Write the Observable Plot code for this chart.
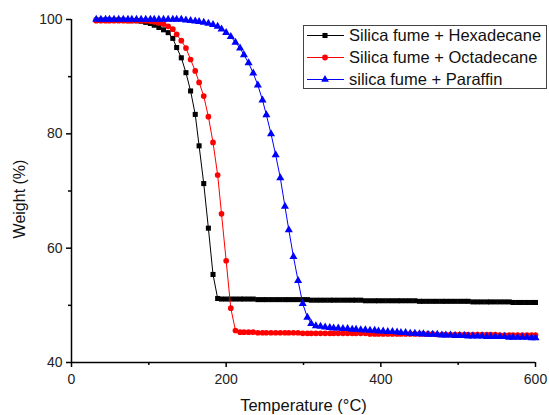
<!DOCTYPE html>
<html>
<head>
<meta charset="utf-8">
<script src="https://cdn.jsdelivr.net/npm/d3@7"></script>
<script src="https://cdn.jsdelivr.net/npm/@observablehq/plot@0.6"></script>
<style>
  html, body { margin: 0; padding: 0; background: #fff; }
  #chart { width: 549px; height: 415px; }
</style>
</head>
<body>
<div id="chart"></div>
<script>
const temperature = [32,38,44,49,55,61,67,73,78,84,
  90,96,102,107,113,119,125,131,136,142,
  148,154,160,165,171,177,183,189,194,200,
  206,212,218,223,229,235,241,247,252,258,
  264,270,276,281,287,293,299,305,310,316,
  322,328,334,339,345,351,357,363,368,374,
  380,386,392,397,403,409,415,421,426,432,
  438,444,450,455,461,467,473,479,484,490,
  496,502,508,513,519,525,531,537,542,548,
  554,560,566,571,577,583,589,595,600];

const hexadecane = [99.9,99.9,99.9,99.9,99.9,99.9,99.9,99.8,99.8,99.8,
  99.7,99.5,99.3,99.0,98.6,98.2,97.7,96.7,95.1,93.3,
  90.7,87.5,83.4,77.9,71.3,63.5,55.4,51.2,51.1,51.1,
  51.1,51.1,51.1,51.1,51.1,51.1,51.0,51.0,51.0,51.0,
  51.0,51.0,51.0,51.0,51.0,51.0,51.0,51.0,50.9,50.9,
  50.9,50.9,50.9,50.9,50.9,50.9,50.9,50.9,50.9,50.9,
  50.8,50.8,50.8,50.8,50.8,50.8,50.8,50.8,50.8,50.8,
  50.8,50.8,50.7,50.7,50.7,50.7,50.7,50.7,50.7,50.7,
  50.7,50.7,50.7,50.7,50.6,50.6,50.6,50.6,50.6,50.6,
  50.6,50.6,50.6,50.5,50.5,50.5,50.5,50.5,50.5];

const octadecane = [99.8,99.8,99.8,99.8,99.8,99.8,99.8,99.8,99.8,99.8,
  99.8,99.8,99.7,99.6,99.4,99.2,98.8,98.3,97.4,96.3,
  95.0,93.0,91.0,89.0,86.6,83.0,78.5,72.8,66.0,57.8,
  49.5,45.6,45.3,45.3,45.3,45.3,45.2,45.2,45.2,45.2,
  45.2,45.2,45.2,45.2,45.2,45.2,45.1,45.1,45.1,45.1,
  45.1,45.1,45.1,45.1,45.1,45.1,45.1,45.1,45.1,45.1,
  45.1,45.0,45.0,45.0,45.0,45.0,45.0,45.0,45.0,45.0,
  45.0,45.0,45.0,45.0,45.0,45.0,44.9,44.9,44.9,44.9,
  44.9,44.9,44.9,44.9,44.9,44.9,44.9,44.9,44.9,44.9,
  44.8,44.8,44.8,44.8,44.8,44.8,44.8,44.8,44.8];

const paraffin = [100,100,100,100,100,100,100,100,100,100,
  100,100,100,100,100,100,100,100,100,100,
  99.9,99.8,99.7,99.6,99.5,99.3,99.1,98.8,98.3,97.7,
  97.0,96.0,95.0,93.8,92.4,90.6,88.5,85.9,83.3,80.0,
  76.3,72.3,67.3,63.2,58.5,54.3,50.3,47.9,46.8,46.4,
  46.3,46.2,46.1,46.0,46.0,45.9,45.9,45.8,45.8,45.7,
  45.7,45.6,45.6,45.5,45.5,45.4,45.4,45.3,45.2,45.2,
  45.1,45.1,45.0,45.0,44.9,44.9,44.9,44.8,44.8,44.8,
  44.7,44.7,44.7,44.6,44.6,44.6,44.6,44.5,44.5,44.5,
  44.5,44.5,44.4,44.4,44.4,44.4,44.4,44.3,44.3];

const seriesNames = ["Silica fume + Hexadecane", "Silica fume + Octadecane", "silica fume + Paraffin"];
const seriesColors = ["#000000", "#ff0000", "#0000ff"];
const seriesSymbols = ["square", "circle", "triangle"];
const seriesValues = [hexadecane, octadecane, paraffin];

const xTicks = [0, 200, 400, 600];
const xMinorTicks = [100, 300, 500];
const yTicks = [40, 60, 80, 100];
const yMinorTicks = [50, 70, 90];
const xTitle = "Temperature (\u00B0C)";
const yTitle = "Weight (%)";

const rows = [];
seriesValues.forEach((vals, s) => {
  vals.forEach((v, i) => rows.push({series: seriesNames[s], t: temperature[i], w: v}));
});

const marks = [];
seriesNames.forEach((name, s) => {
  const d = rows.filter(r => r.series === name);
  marks.push(Plot.line(d, {x: "t", y: "w", stroke: seriesColors[s], strokeWidth: 1}));
  marks.push(Plot.dot(d, {x: "t", y: "w", fill: seriesColors[s], stroke: "none",
    symbol: seriesSymbols[s], r: s === 2 ? 3.0 : 2.85}));
});

const chart = Plot.plot({
  width: 549,
  height: 415,
  marginLeft: 71,
  marginRight: 14,
  marginTop: 19,
  marginBottom: 53,
  style: {fontFamily: "Arial, 'Liberation Sans', sans-serif", fontSize: "12px", color: "#222", background: "#fff"},
  x: {domain: [0, 600]},
  y: {domain: [40, 100]},
  marks: [
    ...marks,
    Plot.ruleX([0], {stroke: "#000", strokeWidth: 1.5}),
    Plot.ruleY([40], {stroke: "#000", strokeWidth: 1.5}),
    Plot.axisX({ticks: xTicks, tickSize: 5, tickPadding: 7, fontSize: 14, label: null, stroke: "#000", strokeWidth: 1.5}),
    Plot.axisX({ticks: xMinorTicks, tickSize: 3, tickFormat: () => "", label: null, stroke: "#000", strokeWidth: 1.5}),
    Plot.axisY({ticks: yTicks, tickSize: 5, tickPadding: 4, fontSize: 14, label: null, stroke: "#000", strokeWidth: 1.5}),
    Plot.axisY({ticks: yMinorTicks, tickSize: 3, tickFormat: () => "", label: null, stroke: "#000", strokeWidth: 1.5}),
    Plot.text([xTitle], {frameAnchor: "bottom", dy: 48, fontSize: 16.5, fill: "#111"})
  ]
});

document.getElementById("chart").appendChild(chart);

const svg = d3.select(chart);
// Y axis title
svg.append("text")
  .attr("transform", "translate(19,199) rotate(-90)")
  .attr("text-anchor", "middle").attr("dy", "0.35em")
  .attr("font-family", "Arial, 'Liberation Sans', sans-serif")
  .attr("font-size", 16).attr("fill", "#111").text(yTitle);

// Legend
const lg = svg.append("g").attr("font-family", "Arial, 'Liberation Sans', sans-serif").attr("text-anchor", "start");
lg.append("rect").attr("x", 303.5).attr("y", 25.5).attr("width", 243).attr("height", 63)
  .attr("fill", "#fff").attr("stroke", "#444").attr("stroke-width", 1);
const symMap = {square: d3.symbolSquare, circle: d3.symbolCircle, triangle: d3.symbolTriangle};
seriesNames.forEach((name, i) => {
  const y = 35.5 + i * 22;
  lg.append("line").attr("x1", 307).attr("x2", 344).attr("y1", y).attr("y2", y)
    .attr("stroke", seriesColors[i]).attr("stroke-width", 1);
  lg.append("path").attr("transform", `translate(325,${y})`)
    .attr("d", d3.symbol(symMap[seriesSymbols[i]], 26)())
    .attr("fill", seriesColors[i]);
  lg.append("text").attr("x", 349).attr("y", y).attr("dy", "0.35em").attr("text-anchor", "start")
    .attr("font-size", 16.5).attr("fill", "#111").text(name);
});
</script>
</body>
</html>
